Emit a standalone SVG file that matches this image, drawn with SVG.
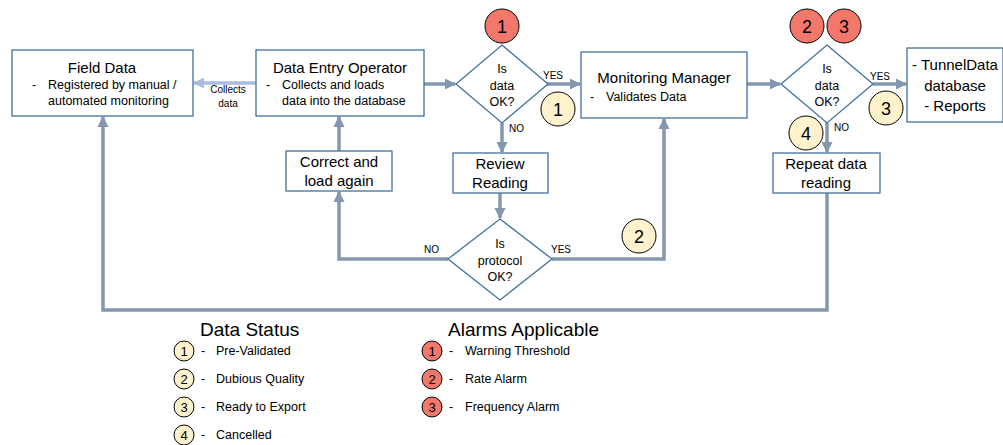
<svg xmlns="http://www.w3.org/2000/svg" width="1003" height="445" viewBox="0 0 1003 445">
<defs>
<style>
text{font-family:"Liberation Sans",Arial,sans-serif;fill:#000}
.box{fill:#fff;stroke:#41719c;stroke-width:1.3}
.t{font-size:15px;text-anchor:middle}
.s{font-size:12.5px}
.d{font-size:12.5px;text-anchor:middle}
.lbl{font-size:10px}
.c{fill:none;stroke:#8497b0;stroke-width:3.5}
.cl{fill:none;stroke:#a9bcdf;stroke-width:3.5}
.red{fill:#f4776b;stroke:#000;stroke-width:1}
.cream{fill:#fff2cc;stroke:#000;stroke-width:1}
.n{font-size:18px;text-anchor:middle}
.ln{font-size:13px;text-anchor:middle}
.leg{font-size:12.5px}
.h{font-size:19px}
</style>
<marker id="a" viewBox="0 0 10 10" refX="9" refY="5" markerWidth="3.2" markerHeight="3.2" orient="auto" markerUnits="strokeWidth"><path d="M0,0L10,5L0,10z" fill="#8497b0"/></marker>
<marker id="al" viewBox="0 0 10 10" refX="9" refY="5" markerWidth="3.2" markerHeight="3.2" orient="auto" markerUnits="strokeWidth"><path d="M0,0L10,5L0,10z" fill="#a9bcdf"/></marker>
</defs>
<g id="connectors">
<path class="cl" d="M256,83H194" marker-end="url(#al)"/>
<text class="lbl" x="228" y="93" text-anchor="middle">Collects</text>
<text class="lbl" x="228" y="107" text-anchor="middle">data</text>
<path class="c" d="M424,84H455" marker-end="url(#a)"/>
<path class="c" d="M547,84H580" marker-end="url(#a)"/>
<text class="lbl" x="543" y="79">YES</text>
<path class="c" d="M502,123V152" marker-end="url(#a)"/>
<text class="lbl" x="509" y="132">NO</text>
<path class="c" d="M500,193V218" marker-end="url(#a)"/>
<path class="c" d="M448,259H339V192" marker-end="url(#a)"/>
<text class="lbl" x="424" y="253">NO</text>
<path class="c" d="M552,259H664V119" marker-end="url(#a)"/>
<text class="lbl" x="551" y="253">YES</text>
<path class="c" d="M339,151V117" marker-end="url(#a)"/>
<path class="c" d="M747,84H780" marker-end="url(#a)"/>
<path class="c" d="M873,84H906" marker-end="url(#a)"/>
<text class="lbl" x="870" y="80">YES</text>
<path class="c" d="M827,123V152" marker-end="url(#a)"/>
<text class="lbl" x="834" y="131">NO</text>
<path class="c" d="M827,193V310H103V117" marker-end="url(#a)"/>
</g>
<g id="field-data">
<rect class="box" x="12" y="50" width="181" height="66"/>
<text class="t" x="102" y="73">Field Data</text>
<text class="s" x="32" y="89">-</text>
<text class="s" x="48" y="89">Registered by manual /</text>
<text class="s" x="48" y="105">automated monitoring</text>
</g>
<g id="data-entry-operator">
<rect class="box" x="256" y="50" width="168" height="66"/>
<text class="t" x="340" y="73">Data Entry Operator</text>
<text class="s" x="266" y="89">-</text>
<text class="s" x="282" y="89">Collects and loads</text>
<text class="s" x="282" y="105">data into the database</text>
</g>
<g id="decision-data-1">
<path class="box" d="M502,45L548,84L502,123L456,84z"/>
<text class="d" x="502" y="73">Is</text>
<text class="d" x="502" y="90">data</text>
<text class="d" x="502" y="106">OK?</text>
</g>
<g id="alarm-1-top">
<circle class="red" cx="502" cy="26" r="17"/>
<text class="n" x="502" y="32.5">1</text>
</g>
<g id="status-1-top">
<circle class="cream" cx="558" cy="109" r="17"/>
<text class="n" x="558" y="115.5">1</text>
</g>
<g id="monitoring-manager">
<rect class="box" x="581" y="52" width="166" height="66"/>
<text class="t" x="664" y="83">Monitoring Manager</text>
<text class="s" x="590" y="101">-</text>
<text class="s" x="606" y="101">Validates Data</text>
</g>
<g id="decision-data-2">
<path class="box" d="M827,45L873,84L827,123L781,84z"/>
<text class="d" x="827" y="73">Is</text>
<text class="d" x="827" y="90">data</text>
<text class="d" x="827" y="106">OK?</text>
</g>
<g id="alarm-2-top">
<circle class="red" cx="807" cy="26" r="17"/>
<text class="n" x="807" y="32.5">2</text>
</g>
<g id="alarm-3-top">
<circle class="red" cx="844" cy="26" r="17"/>
<text class="n" x="844" y="32.5">3</text>
</g>
<g id="tunneldata">
<rect class="box" x="907" y="48" width="96" height="74"/>
<text class="t" x="955" y="70">- TunnelData</text>
<text class="t" x="955" y="91">database</text>
<text class="t" x="955" y="111">- Reports</text>
</g>
<g id="status-3-top">
<circle class="cream" cx="886" cy="108" r="17"/>
<text class="n" x="886" y="114.5">3</text>
</g>
<g id="status-4-top">
<circle class="cream" cx="806" cy="133" r="17"/>
<text class="n" x="806" y="139.5">4</text>
</g>
<g id="repeat-reading">
<rect class="box" x="773" y="153" width="107" height="40"/>
<text class="t" x="826" y="169">Repeat data</text>
<text class="t" x="826" y="188">reading</text>
</g>
<g id="correct-load">
<rect class="box" x="286" y="151" width="106" height="40"/>
<text class="t" x="339" y="167">Correct and</text>
<text class="t" x="339" y="186">load again</text>
</g>
<g id="review-reading">
<rect class="box" x="453" y="153" width="95" height="40"/>
<text class="t" x="500" y="169">Review</text>
<text class="t" x="500" y="188">Reading</text>
</g>
<g id="decision-protocol">
<path class="box" d="M500,219L552,259L500,300L448,259z"/>
<text class="d" x="500" y="248">Is</text>
<text class="d" x="500" y="265">protocol</text>
<text class="d" x="500" y="281">OK?</text>
</g>
<g id="status-2-top">
<circle class="cream" cx="639" cy="236" r="17"/>
<text class="n" x="639" y="242.5">2</text>
</g>
<g id="legend-status">
<text class="h" x="200" y="336">Data Status</text>
<circle class="cream" cx="184" cy="351" r="10"/><text class="ln" x="184" y="355.5">1</text>
<text class="leg" x="201" y="355">-</text><text class="leg" x="216" y="355">Pre-Validated</text>
<circle class="cream" cx="184" cy="379" r="10"/><text class="ln" x="184" y="383.5">2</text>
<text class="leg" x="201" y="383">-</text><text class="leg" x="216" y="383">Dubious Quality</text>
<circle class="cream" cx="184" cy="407" r="10"/><text class="ln" x="184" y="411.5">3</text>
<text class="leg" x="201" y="411">-</text><text class="leg" x="216" y="411">Ready to Export</text>
<circle class="cream" cx="184" cy="435" r="10"/><text class="ln" x="184" y="439.5">4</text>
<text class="leg" x="201" y="439">-</text><text class="leg" x="216" y="439">Cancelled</text>
</g>
<g id="legend-alarms">
<text class="h" x="448" y="336">Alarms Applicable</text>
<circle class="red" cx="432" cy="351" r="10"/><text class="ln" x="432" y="355.5">1</text>
<text class="leg" x="449" y="355">-</text><text class="leg" x="465" y="355">Warning Threshold</text>
<circle class="red" cx="432" cy="379" r="10"/><text class="ln" x="432" y="383.5">2</text>
<text class="leg" x="449" y="383">-</text><text class="leg" x="465" y="383">Rate Alarm</text>
<circle class="red" cx="432" cy="407" r="10"/><text class="ln" x="432" y="411.5">3</text>
<text class="leg" x="449" y="411">-</text><text class="leg" x="465" y="411">Frequency Alarm</text>
</g>
</svg>
